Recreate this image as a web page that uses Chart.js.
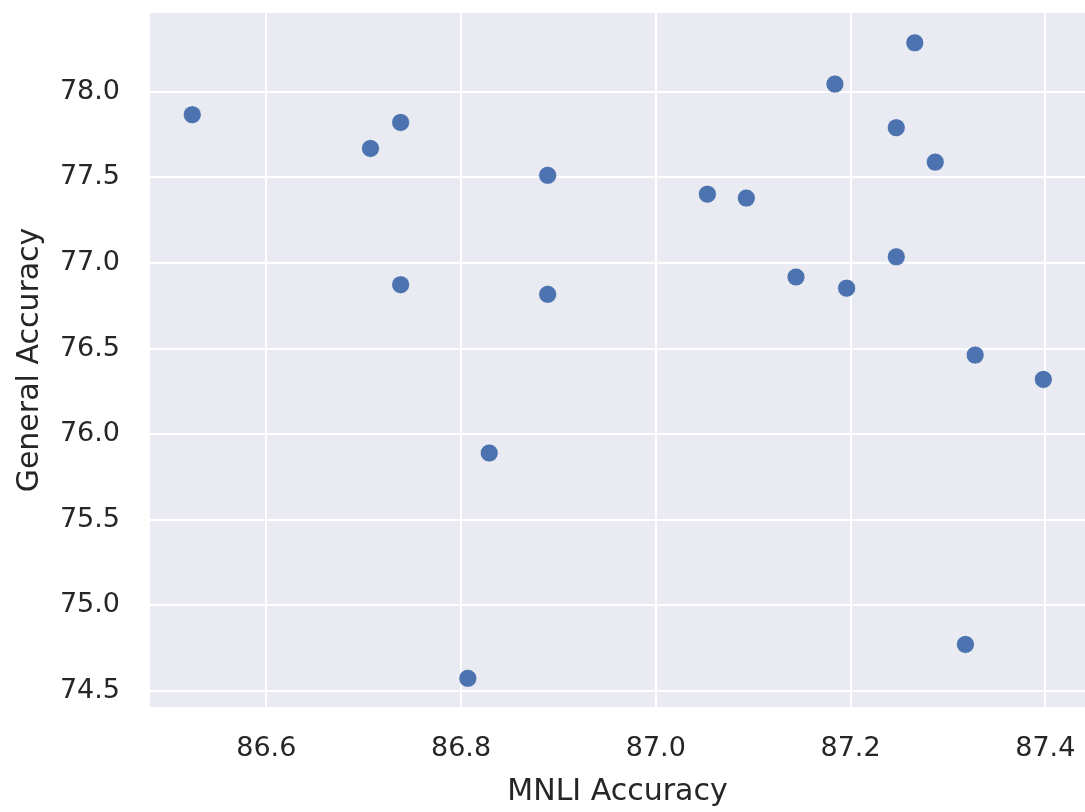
<!DOCTYPE html>
<html>
<head>
<meta charset="utf-8">
<script src="https://cdn.jsdelivr.net/npm/chart.js@4.4.1/dist/chart.umd.min.js"></script>
<style>
  html, body { margin: 0; padding: 0; background: #ffffff; }
  #wrap { width: 1085px; height: 812px; position: relative; }
</style>
</head>
<body>
<div id="wrap"><canvas id="c" width="1085" height="812"></canvas></div>
<script>
// MNLI accuracy (x) and general accuracy (y) per model
const mnliAccuracy = [86.524, 86.707, 86.738, 86.738, 86.889, 86.889, 86.829, 86.807, 87.053, 87.093,
                      87.184, 87.266, 87.247, 87.287, 87.144, 87.196, 87.247, 87.328, 87.398, 87.318];
const generalAccuracy = [77.866, 77.669, 77.821, 76.873, 77.512, 76.817, 75.890, 74.574, 77.402, 77.379,
                         78.045, 78.286, 77.790, 77.589, 76.918, 76.853, 77.036, 76.462, 76.320, 74.772];
const xTicks = [86.6, 86.8, 87.0, 87.2, 87.4];
const yTicks = [74.5, 75.0, 75.5, 76.0, 76.5, 77.0, 77.5, 78.0];
const xRange = [86.4806, 87.4408];
const yRange = [74.4065, 78.46];

const points = mnliAccuracy.map((x, i) => ({ x: x, y: generalAccuracy[i] }));

const bgPlugin = {
  id: 'plotBg',
  beforeDraw(chart) {
    const a = chart.chartArea, ctx = chart.ctx;
    ctx.save();
    ctx.fillStyle = '#EAEAF2';
    ctx.fillRect(a.left, a.top, a.right - a.left, a.bottom - a.top);
    ctx.restore();
  }
};

const tickFont = { family: 'DejaVu Sans', size: 27 };
const titleFont = { family: 'DejaVu Sans', size: 30 };

new Chart(document.getElementById('c'), {
  type: 'scatter',
  data: {
    datasets: [{
      data: points,
      backgroundColor: '#4C72B0',
      borderColor: '#ffffff',
      borderWidth: 0.6,
      pointRadius: 9,
      pointHoverRadius: 9
    }]
  },
  options: {
    responsive: false,
    animation: false,
    layout: { autoPadding: false, padding: { top: 13, right: 0, left: 0, bottom: 0 } },
    plugins: { legend: { display: false }, tooltip: { enabled: false } },
    scales: {
      x: {
        type: 'linear',
        min: xRange[0], max: xRange[1],
        afterBuildTicks(axis) { axis.ticks = xTicks.map(v => ({ value: v })); },
        afterFit(axis) {
          axis.height = 105;
          axis.paddingLeft = 0; axis.paddingRight = 0; axis.paddingTop = 0; axis.paddingBottom = 0;
        },
        grid: { color: '#ffffff', lineWidth: 2, drawTicks: false },
        border: { display: false },
        ticks: { color: '#262626', font: tickFont, padding: 26, maxRotation: 0,
                 callback: v => Number(v).toFixed(1) },
        title: { display: true, text: 'MNLI Accuracy', color: '#262626', font: titleFont,
                 padding: { top: 0, bottom: 2 } }
      },
      y: {
        type: 'linear',
        min: yRange[0], max: yRange[1],
        afterBuildTicks(axis) { axis.ticks = yTicks.map(v => ({ value: v })); },
        afterFit(axis) {
          axis.width = 150;
          axis.paddingLeft = 0; axis.paddingRight = 0; axis.paddingTop = 0; axis.paddingBottom = 0;
        },
        grid: { color: '#ffffff', lineWidth: 2, drawTicks: false },
        border: { display: false },
        ticks: { color: '#262626', font: tickFont, padding: 30,
                 callback: v => Number(v).toFixed(1) },
        title: { display: true, text: 'General Accuracy', color: '#262626', font: titleFont,
                 padding: { top: 12, bottom: 0 } }
      }
    }
  },
  plugins: [bgPlugin]
});
</script>
</body>
</html>
